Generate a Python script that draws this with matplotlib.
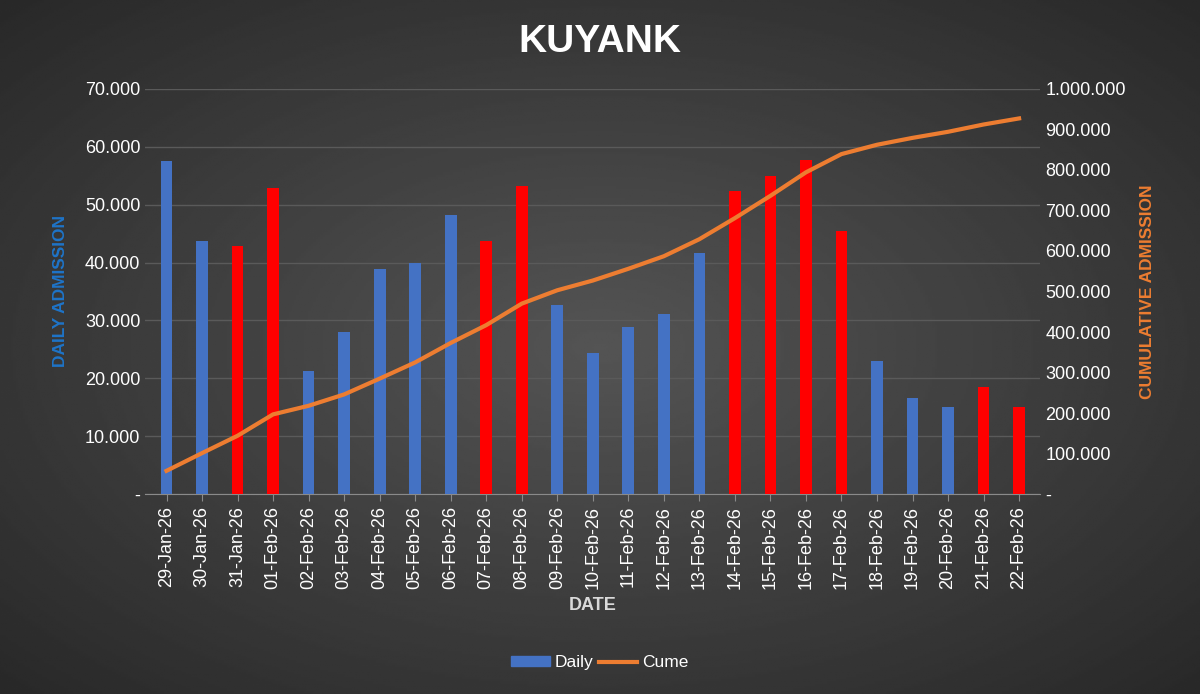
import numpy as np
import matplotlib.pyplot as plt
from matplotlib.ticker import FuncFormatter

plt.rcParams['font.family'] = ['Liberation Sans', 'DejaVu Sans']

dates = ['29-Jan-26', '30-Jan-26', '31-Jan-26', '01-Feb-26', '02-Feb-26', '03-Feb-26',
         '04-Feb-26', '05-Feb-26', '06-Feb-26', '07-Feb-26', '08-Feb-26', '09-Feb-26',
         '10-Feb-26', '11-Feb-26', '12-Feb-26', '13-Feb-26', '14-Feb-26', '15-Feb-26',
         '16-Feb-26', '17-Feb-26', '18-Feb-26', '19-Feb-26', '20-Feb-26', '21-Feb-26',
         '22-Feb-26']
daily = [57500, 43700, 42800, 52800, 21200, 28000, 38900, 39900, 48200, 43700, 53200,
         32600, 24400, 28800, 31100, 41600, 52300, 54900, 57700, 45400, 23000, 16600,
         15000, 18500, 15000]
cume = [57500, 101200, 144000, 196800, 218000, 246000, 285000, 325000, 373000, 417000,
        470000, 503000, 527000, 556000, 587000, 629000, 681000, 736000, 794000, 839000,
        862000, 879000, 894000, 912000, 927000]
# red bars = weekends / holidays highlighted in the source
highlight = [2, 3, 9, 10, 16, 17, 18, 19, 23, 24]

BLUE = '#4472C4'
RED = '#FF0000'
ORANGE = '#ED7D31'


def dotfmt(v, pos):
    if v == 0:
        return '-'
    return f'{int(round(v)):,}'.replace(',', '.')


fig = plt.figure(figsize=(12, 6.94), dpi=100)

# dark radial background
bg = fig.add_axes([0, 0, 1, 1], zorder=-10)
yy, xx = np.mgrid[-1:1:300j, -1:1:500j]
r = np.sqrt(xx**2 + yy**2)
bg.imshow(0.33 - 0.17 * np.clip(r, 0, 1.4) / 1.4, cmap='gray', vmin=0, vmax=1,
          aspect='auto', extent=[0, 1, 0, 1])
bg.axis('off')

ax = fig.add_axes([0.121, 0.288, 0.746, 0.584])
ax.patch.set_alpha(0)
x = np.arange(len(dates))
colors = [RED if i in highlight else BLUE for i in range(len(dates))]
ax.bar(x, daily, width=0.33, color=colors, zorder=3)
ax.set_ylim(0, 70000)
ax.set_yticks(np.arange(0, 70001, 10000))
ax.yaxis.set_major_formatter(FuncFormatter(dotfmt))
ax.set_xlim(-0.6, len(dates) - 0.4)
ax.set_xticks(x)
ax.set_xticklabels(dates, rotation=90)
ax.grid(axis='y', color='#5a5a5a', linewidth=1, zorder=0)
for s in ['top', 'right', 'left']:
    ax.spines[s].set_visible(False)
ax.spines['bottom'].set_color('#8a8a8a')
ax.tick_params(colors='white', labelsize=13, length=0)
ax.tick_params(axis='x', length=5, color='#8a8a8a')
ax.set_ylabel('DAILY ADMISSION', color='#1E74C8', fontsize=12.5, fontweight='bold', labelpad=12)
ax.set_xlabel('DATE', color='#d9d9d9', fontsize=13, fontweight='bold', labelpad=6)

ax2 = ax.twinx()
ax2.plot(x, cume, color=ORANGE, linewidth=3, zorder=4)
ax2.set_ylim(0, 1000000)
ax2.set_yticks(np.arange(0, 1000001, 100000))
ax2.yaxis.set_major_formatter(FuncFormatter(dotfmt))
for s in ax2.spines.values():
    s.set_visible(False)
ax2.tick_params(colors='white', labelsize=13, length=0)
ax2.set_ylabel('CUMULATIVE ADMISSION', color=ORANGE, fontsize=12.5, fontweight='bold', labelpad=10)

fig.text(0.5, 0.94, 'KUYANK', ha='center', va='center', color='white',
         fontsize=28, fontweight='bold')

h1 = plt.Rectangle((0, 0), 1, 1, color=BLUE)
h2 = plt.Line2D([], [], color=ORANGE, linewidth=3)
fig.legend([h1, h2], ['Daily', 'Cume'], loc='center', bbox_to_anchor=(0.5, 0.045),
           ncol=2, frameon=False, labelcolor='white', fontsize=12.5,
           handlelength=2.2, handleheight=0.5, columnspacing=0.3, handletextpad=0.3)

fig.savefig('out.png', dpi=100)
